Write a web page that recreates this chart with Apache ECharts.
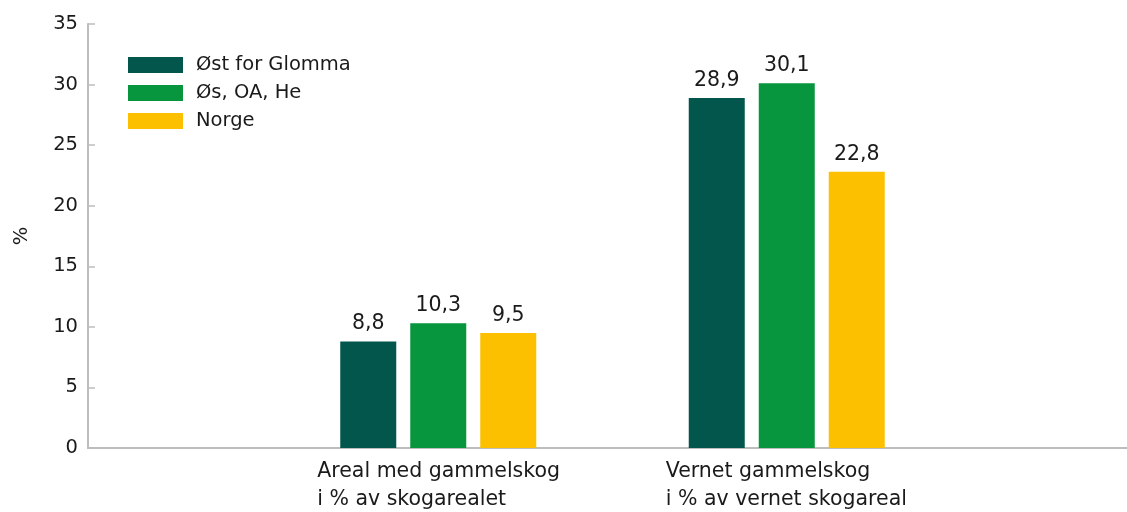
<!DOCTYPE html>
<html>
<head>
<meta charset="utf-8">
<script src="https://cdn.jsdelivr.net/npm/echarts@6/dist/echarts.min.js"></script>
<style>
  html, body { margin: 0; padding: 0; background: #fff; }
  #main { width: 1127px; height: 512px; }
</style>
</head>
<body>
<div id="main"></div>
<script>
// data
const categories = [
  ['Areal med gammelskog', 'i % av skogarealet'],
  ['Vernet gammelskog', 'i % av vernet skogareal']
];
const seriesNames = ['Øst for Glomma', 'Øs, OA, He', 'Norge'];
const ostForGlomma = [8.8, 28.9];
const osOaHe = [10.3, 30.1];
const norge = [9.5, 22.8];
const colors = ['#03564B', '#07963D', '#FCC000'];

const chart = echarts.init(document.getElementById('main'));
const font = 'DejaVu Sans, sans-serif';

const mkSeries = (name, data, color) => ({
  name: name,
  type: 'bar',
  xAxisIndex: 0,
  yAxisIndex: 0,
  data: data,
  barWidth: 56,
  barGap: '25%',
  itemStyle: { color: color },
  label: {
    show: true,
    position: 'top',
    distance: 7,
    fontFamily: font,
    fontSize: 20.5,
    color: '#1a1a1a',
    formatter: p => String(p.value).replace('.', ',')
  }
});

const option = {
  backgroundColor: '#fff',
  animation: false,
  color: colors,
  legend: {
    orient: 'vertical',
    left: 123,
    top: 50,
    itemWidth: 55,
    itemHeight: 16,
    itemGap: 8,
    icon: 'rect',
    data: seriesNames,
    textStyle: { fontFamily: font, fontSize: 19.5, color: '#1a1a1a', padding: [0, 0, 0, 8] }
  },
  grid: [
    // bars grid (category centres aligned with the groups)
    { left: 264, right: 166, top: 24, bottom: 64 },
    // axis frame grid
    { left: 88, right: 0, top: 24, bottom: 64 }
  ],
  xAxis: [
    {
      type: 'category',
      gridIndex: 0,
      data: categories.map(c => c.join('\n')),
      axisLine: { show: false },
      axisTick: { show: false },
      axisLabel: {
        interval: 0,
        hideOverlap: false,
        margin: 10,
        fontFamily: font,
        fontSize: 20.5,
        color: '#1a1a1a',
        formatter: v => v.split('\n').map(s => '{a|' + s + '}').join('\n'),
        rich: { a: { width: 242, align: 'left', fontFamily: font, fontSize: 20.5, lineHeight: 28, color: '#1a1a1a' } }
      }
    },
    {
      type: 'value',
      gridIndex: 1,
      min: 0,
      max: 1,
      axisLine: { show: true, lineStyle: { color: '#bdbdbd', width: 2 } },
      axisTick: { show: false },
      axisLabel: { show: false },
      splitLine: { show: false }
    }
  ],
  yAxis: [
    {
      type: 'value',
      gridIndex: 0,
      min: 0,
      max: 35,
      interval: 5,
      show: false
    },
    {
      type: 'value',
      gridIndex: 1,
      min: 0,
      max: 35,
      interval: 5,
      name: '%',
      nameLocation: 'middle',
      nameGap: 56,
      nameRotate: 90,
      nameTextStyle: { fontFamily: font, fontSize: 19.5, color: '#1a1a1a' },
      axisLine: { show: true, lineStyle: { color: '#bdbdbd', width: 2 } },
      axisTick: { show: true, inside: true, length: 7, lineStyle: { color: '#bdbdbd', width: 1.5 } },
      axisLabel: { margin: 10, fontFamily: font, fontSize: 19.5, color: '#1a1a1a' },
      splitLine: { show: false }
    }
  ],
  series: [
    mkSeries(seriesNames[0], ostForGlomma, colors[0]),
    mkSeries(seriesNames[1], osOaHe, colors[1]),
    mkSeries(seriesNames[2], norge, colors[2])
  ]
};

chart.setOption(option);
window.addEventListener('resize', function () {
  chart.resize();
});
</script>
</body>
</html>
